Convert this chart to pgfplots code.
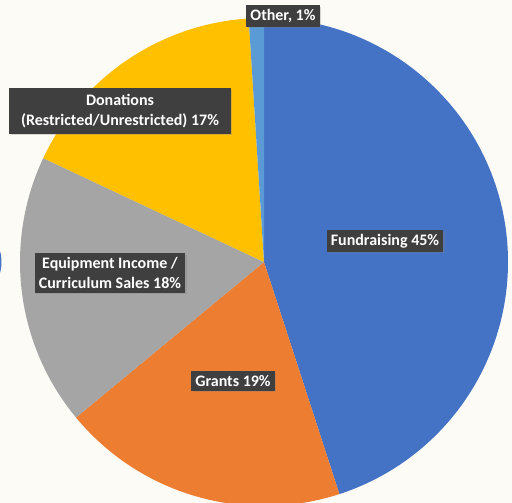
\documentclass[border=0pt]{standalone}
\usepackage{pgfplots}
\pgfplotsset{compat=1.18}
\usepackage{fontspec}
\setmainfont{Carlito}
\usetikzlibrary{shadows}
\definecolor{bg}{HTML}{FDFBF6}
\definecolor{cfund}{HTML}{4472C4}
\definecolor{cgrant}{HTML}{ED7D31}
\definecolor{cequip}{HTML}{A5A5A5}
\definecolor{cdon}{HTML}{FFC000}
\definecolor{cother}{HTML}{5B9BD5}
\definecolor{labbg}{HTML}{3F3F3F}
\tikzset{lab/.style={fill=labbg, text=white, font=\bfseries\fontsize{16}{20}\selectfont,
    inner xsep=4pt, inner ysep=4pt, align=center,
    drop shadow={shadow xshift=1.5pt, shadow yshift=-1.5pt, opacity=0.3}}}
% slice: start percent, value percent, colour
\newcommand\slice[3]{%
  \pgfmathsetmacro\sa{90-3.6*#1}\pgfmathsetmacro\sb{90-3.6*(#1+#2)}%
  \edef\tmp{\noexpand\fill[#3] (axis cs:264,241) -- ++(\sa:244pt) arc[start angle=\sa, end angle=\sb, radius=244pt] -- cycle;}\tmp}
\begin{document}
\begin{tikzpicture}
\useasboundingbox (0,0) rectangle (512pt,503pt);
\fill[bg] (0,0) rectangle (512pt,503pt);
\begin{axis}[
  at={(0,0)}, anchor=south west, x=1pt, y=1pt,
  xmin=0, xmax=512, ymin=0, ymax=503,
  hide axis, clip=false,
]
\fill[cfund] (axis cs:-40,241) circle[radius=41.5pt];
\slice{0}{45}{cfund}
\slice{45}{19}{cgrant}
\slice{64}{18}{cequip}
\slice{82}{17}{cdon}
\slice{99}{1}{cother}
\node[lab] at (axis cs:385,262) {Fundraising 45\%};
\node[lab] at (axis cs:233,122) {Grants 19\%};
\node[lab] at (axis cs:110,230) {Equipment Income /\\Curriculum Sales 18\%};
\node[lab, inner xsep=12pt, inner ysep=6pt] at (axis cs:120,392) {Donations\\(Restricted/Unrestricted) 17\%};
\node[lab] at (axis cs:283,487) {Other, 1\%};
\end{axis}
\end{tikzpicture}
\end{document}
